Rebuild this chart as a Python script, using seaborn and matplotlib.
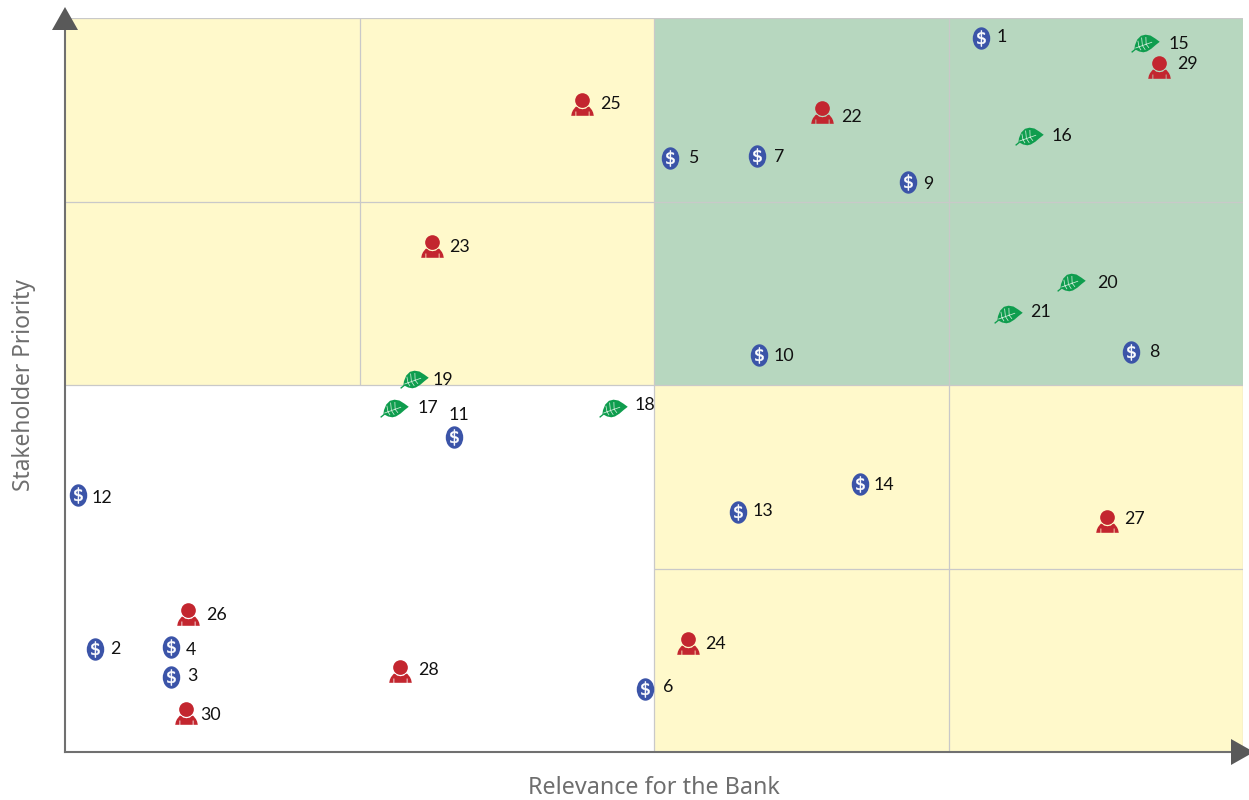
import matplotlib
matplotlib.use("Agg")
import matplotlib.pyplot as plt
import numpy as np
import pandas as pd
import seaborn as sns
from matplotlib.markers import MarkerStyle
from matplotlib.patches import Polygon, Rectangle
from matplotlib.path import Path

ids = list(range(1, 31))
kinds = ["finance"] * 14 + ["environment"] * 7 + ["social"] * 9
relevance = [916, 30, 106, 106, 605, 580, 692, 1066, 843, 694, 389, 13, 673, 795, 1080,
             964, 329, 548, 349, 1006, 943, 757, 367, 623, 517, 123, 1042, 335, 1094, 121]
priority = [714, 103, 75, 105, 594, 63, 596, 400, 570, 397, 315, 257, 240, 268, 709,
            616, 344, 344, 373, 470, 438, 640, 506, 109, 648, 138, 231, 81, 685, 39]
label_dx = [21, 20, 21, 20, 23, 23, 22, 23, 20, 25, 5, 24, 25, 24, 34,
            33, 34, 32, 29, 36, 32, 29, 27, 27, 28, 28, 27, 28, 28, 25]
label_dy = [1, 0, 1, -3, 0, 2, -1, 0, -2, -1, 22, -3, 1, -1, -1,
            0, 0, 3, -1, -1, 2, -5, -1, -1, 0, -1, 2, 1, 3, -2]
x_label = "Relevance for the Bank"
y_label = "Stakeholder Priority"
palette = {"finance": "#3B54A8", "environment": "#0F9D4E", "social": "#C3262F"}

W, H = 1249, 800
X0, X1, Y0, Y1 = 65, 1243, 752, 18
XMAX, YMAX = X1 - X0, Y0 - Y1


def ellipse_path(w, h):
    p = Path.unit_circle()
    return Path(p.vertices * [w, h], p.codes)


def closed(points):
    pts = list(points) + [points[0]]
    return Path(pts, [Path.MOVETO] + [Path.LINETO] * (len(pts) - 2) + [Path.CLOSEPOLY])


def person_path():
    c = Path.unit_circle()
    head = Path(c.vertices * 0.65 + [0, 0.35], c.codes)
    body = closed([(-1, -1), (-0.94, -0.72), (-0.84, -0.5), (-0.6, -0.2), (-0.48, -0.2), (-0.3, -0.36),
                   (0, -0.42), (0.3, -0.36), (0.48, -0.2), (0.6, -0.2), (0.84, -0.5), (0.94, -0.72), (1, -1),
                   (0.62, -1), (0.62, -0.62), (0.55, -0.62), (0.55, -1),
                   (-0.55, -1), (-0.55, -0.62), (-0.62, -0.62), (-0.62, -1)])
    return Path.make_compound_path(head, body)


def leaf_path():
    return closed([(-1, -0.58), (-0.78, -0.4), (-0.74, -0.12), (-0.58, 0.28), (-0.32, 0.54), (0, 0.62),
                   (0.35, 0.56), (0.7, 0.34), (1, 0.12), (0.72, -0.1), (0.42, -0.36), (0.1, -0.56),
                   (-0.15, -0.62), (-0.45, -0.56), (-0.68, -0.44), (-0.95, -0.66)])


def vein_path():
    segs = [((-1, 0), (-1, 0)), ((1, 0), (1, 0)), ((-0.68, -0.36), (0.5, 0.06)),
            ((-0.42, -0.27), (-0.5, 0.16)), ((-0.18, -0.18), (-0.24, 0.38)), ((0.08, -0.09), (0.06, 0.42)),
            ((-0.42, -0.27), (-0.28, -0.5)), ((-0.18, -0.18), (0.02, -0.48)), ((0.08, -0.09), (0.28, -0.34))]
    v, c = [], []
    for a, b in segs:
        v += [a, b]
        c += [Path.MOVETO, Path.LINETO]
    return Path(v, c)


sns.set_theme(style="white")
plt.rcParams["font.family"] = ["Lato", "DejaVu Sans"]
fig = plt.figure(figsize=(W / 100, H / 100), dpi=100, facecolor="white")
ax = fig.add_axes([X0 / W, 1 - Y0 / H, (X1 - X0) / W, (Y0 - Y1) / H])
ax.set_xlim(0, XMAX)
ax.set_ylim(0, YMAX)
ax.set_facecolor("white")

qx, qy = XMAX / 4, YMAX / 4
yellow, green, grid = "#FFF9CB", "#B7D7BF", "#C9C9C9"
for (cx, cy, col) in [(0, 2, yellow), (2, 0, yellow), (2, 2, green)]:
    ax.add_patch(Rectangle((cx * qx, cy * qy), 2 * qx, 2 * qy, fc=col, ec="none", zorder=0))
ax.vlines([qx], 2 * qy, YMAX, color=grid, lw=0.9, zorder=1)
ax.vlines([2 * qx, 3 * qx, XMAX], [0, 0, 0], YMAX, color=grid, lw=0.9, zorder=1)
ax.hlines([qy], 2 * qx, XMAX, color=grid, lw=0.9, zorder=1)
ax.hlines([2 * qy], 0, XMAX, color=grid, lw=0.9, zorder=1)
ax.hlines([3 * qy, YMAX], 0, XMAX, color=grid, lw=0.9, zorder=1)

df = pd.DataFrame({"id": ids, "kind": kinds, "x": relevance, "y": priority,
                   "dx": label_dx, "dy": label_dy})

sizes = {"finance": 260, "social": 265, "environment": 420}
markers = {"finance": ellipse_path(0.78, 1), "social": person_path(), "environment": leaf_path()}
for kind, sub in df.groupby("kind"):
    sns.scatterplot(data=sub, x="x", y="y", marker=MarkerStyle(markers[kind]), color=palette[kind],
                    s=sizes[kind], linewidth=0, legend=False, ax=ax, zorder=3, clip_on=False)

fin = df[df.kind == "finance"]
sns.scatterplot(data=fin, x="x", y="y", marker=r"$\$$", color="white", s=130,
                linewidth=0.4, edgecolor="white", legend=False, ax=ax, zorder=4, clip_on=False)
env = df[df.kind == "environment"]
ax.scatter(env.x, env.y, marker=MarkerStyle(vein_path()), s=420, facecolors="none",
           edgecolors="#CFEBD8", linewidths=0.55, zorder=4)

for r in df.itertuples():
    ax.annotate(str(r.id), (r.x, r.y), xytext=(r.dx * 0.72, r.dy * 0.72), textcoords="offset points",
                ha="center", va="center", fontsize=12.8, color="#111111", zorder=5, annotation_clip=False)

ax.set_xticks([])
ax.set_yticks([])
ax.set_xlabel("")
ax.set_ylabel("")
for s in ["top", "right"]:
    ax.spines[s].set_visible(False)
for s in ["left", "bottom"]:
    ax.spines[s].set_color("#707070")
    ax.spines[s].set_linewidth(1.5)
    ax.spines[s].set_zorder(6)

arrow = "#595959"
tr = fig.transFigure
px = lambda pts: [(a / W, 1 - b / H) for a, b in pts]
fig.add_artist(Polygon(px([(52, 30), (78, 30), (65, 7)]), closed=True, fc=arrow, ec="none", transform=tr))
fig.add_artist(Polygon(px([(1231, 739), (1231, 765), (1254, 752)]), closed=True, fc=arrow, ec="none", transform=tr))

label_style = dict(color="#6E6E6E", family=["Noto Sans", "DejaVu Sans"])
fig.text(654 / W, 1 - 788 / H, x_label, ha="center", va="center", fontsize=16.8, **label_style)
fig.text(24 / W, 1 - 385 / H, y_label, ha="center", va="center", rotation=90, fontsize=16.4, **label_style)

fig.savefig("out.png", dpi=100)
